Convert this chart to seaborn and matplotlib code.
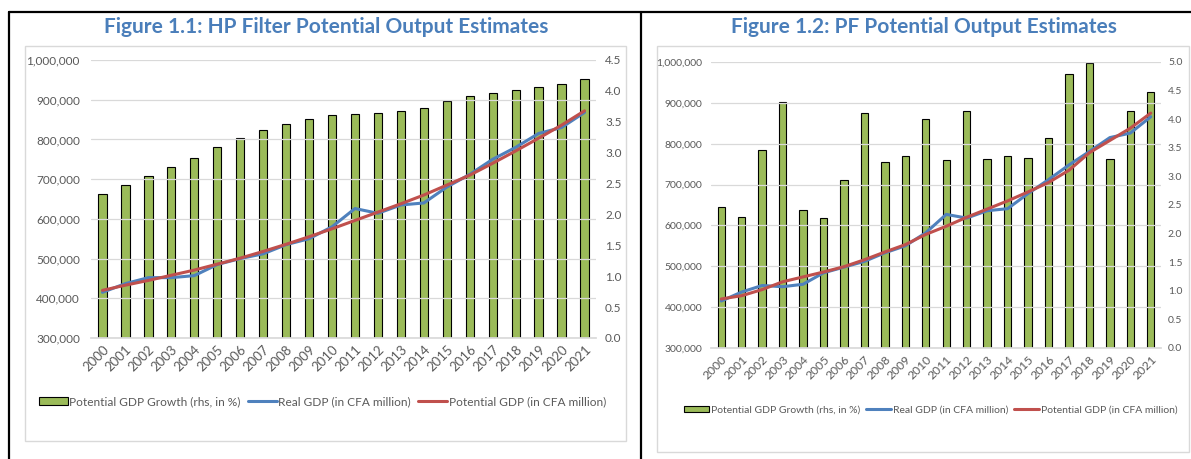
import numpy as np
import pandas as pd
import matplotlib
matplotlib.use("Agg")
import matplotlib.pyplot as plt
import seaborn as sns
from matplotlib.lines import Line2D
from matplotlib.patches import Rectangle, Patch
from matplotlib.ticker import FuncFormatter, MultipleLocator

years = [str(y) for y in range(2000, 2022)]

# Figure 1.1 (HP filter)
hp_growth = [2.33, 2.48, 2.62, 2.76, 2.92, 3.09, 3.23, 3.36, 3.47, 3.55, 3.61,
             3.63, 3.64, 3.67, 3.73, 3.83, 3.91, 3.97, 4.02, 4.06, 4.11, 4.19]
hp_real = [415000, 437000, 452000, 452000, 457000, 485000, 500000, 512000, 535000, 550000, 580000,
           626000, 614000, 635000, 640000, 680000, 712000, 750000, 780000, 815000, 830000, 868000]
hp_pot = [420000, 433000, 445000, 458000, 471000, 486000, 501000, 518000, 536000, 555000, 575000,
          596000, 617000, 638000, 660000, 685000, 710000, 740000, 771000, 803000, 836000, 872000]

# Figure 1.2 (production function)
pf_growth = [2.46, 2.29, 3.47, 4.30, 2.41, 2.27, 2.93, 4.10, 3.26, 3.36, 4.00,
             3.29, 4.14, 3.31, 3.36, 3.32, 3.67, 4.79, 4.99, 3.31, 4.14, 4.48]
pf_real = [415000, 437000, 453000, 450000, 456000, 484000, 498000, 512000, 533000, 550000, 582000,
           627000, 618000, 636000, 641000, 678000, 712000, 748000, 781000, 815000, 826000, 866000]
pf_pot = [420000, 428000, 443000, 462000, 474000, 486000, 499000, 516000, 535000, 553000, 578000,
          598000, 620000, 640000, 660000, 682000, 705000, 735000, 778000, 808000, 838000, 875000]

titles = ["Figure 1.1: HP Filter Potential Output Estimates",
          "Figure 1.2: PF Potential Output Estimates"]
legend_labels = ["Potential GDP Growth (rhs, in %)", "Real GDP (in CFA million)",
                 "Potential GDP (in CFA million)"]

GREEN = "#9BBB59"
BLUE = "#4F81BD"
RED = "#C0504D"
TITLE_C = "#4A7EBA"
TXT = "#595959"
GRID = "#D9D9D9"

sns.set_theme(style="white")
plt.rcParams["font.family"] = ["Lato", "DejaVu Sans"]

W, H = 1191, 459
fig = plt.figure(figsize=(W / 100, H / 100), dpi=100)


def fx(px):
    return px / W


def fy(py):
    return 1 - py / H


# outer black frame lines
for seg in [((9, 1191), (12, 12)), ((9, 9), (12, 459)), ((641, 641), (12, 459))]:
    fig.add_artist(Line2D([fx(seg[0][0]), fx(seg[0][1])], [fy(seg[1][0]), fy(seg[1][1])],
                          color="black", lw=1.6))

# inner light gray boxes
for (x0, y0, x1, y1) in [(25, 46, 626, 441), (657, 46, 1189, 452)]:
    fig.add_artist(Rectangle((fx(x0), fy(y1)), fx(x1) - fx(x0), fy(y0) - fy(y1),
                             fill=False, edgecolor=GRID, lw=1.0))

panels = [
    dict(growth=hp_growth, real=hp_real, pot=hp_pot, title=titles[0],
         box=(91, 60, 596, 338), rmax=4.5, tcx=326, fs=8.5, yfs=9.5, lfs=8.6,
         leg=(39, 402), lpad=8, rpad=6.5),
    dict(growth=pf_growth, real=pf_real, pot=pf_pot, title=titles[1],
         box=(711, 62, 1161, 348), rmax=5.0, tcx=924, fs=7.5, yfs=8.7, lfs=7.5,
         leg=(684, 410), lpad=6, rpad=5),
]

for p in panels:
    x0, y0, x1, y1 = p["box"]
    ax = fig.add_axes([fx(x0), fy(y1), fx(x1) - fx(x0), fy(y0) - fy(y1)])
    ax2 = ax.twinx()
    df = pd.DataFrame({"year": years, "growth": p["growth"], "real": p["real"], "pot": p["pot"]})

    sns.barplot(data=df, x="year", y="growth", ax=ax2, color=GREEN, width=0.36,
                edgecolor="black", linewidth=0.8, saturation=1)
    for patch in ax2.patches:
        patch.set_facecolor(GREEN)
    ax2.set_ylim(0, p["rmax"])
    ax2.yaxis.set_major_locator(MultipleLocator(0.5))
    ax2.yaxis.set_major_formatter(FuncFormatter(lambda v, _: f"{v:.1f}"))
    ax2.set_ylabel("")

    sns.lineplot(data=df, x="year", y="real", ax=ax, color=BLUE, lw=2.2, sort=False)
    sns.lineplot(data=df, x="year", y="pot", ax=ax, color=RED, lw=2.2, sort=False)
    ax.set_ylim(300000, 1000000)
    ax.set_xlim(-0.5, len(years) - 0.5)
    ax.yaxis.set_major_locator(MultipleLocator(100000))
    ax.yaxis.set_major_formatter(FuncFormatter(lambda v, _: f"{int(v):,}"))
    ax.set_xlabel("")
    ax.set_ylabel("")
    ax.grid(axis="y", color=GRID, lw=0.9)
    ax.grid(axis="x", visible=False)
    ax.set_axisbelow(True)

    ax.set_zorder(ax2.get_zorder() + 1)
    ax.patch.set_visible(False)

    for a in (ax, ax2):
        for s in a.spines.values():
            s.set_visible(False)
        a.tick_params(length=0, colors=TXT, labelsize=p["fs"])
    ax.spines["bottom"].set_visible(True)
    ax.spines["bottom"].set_color(GRID)
    ax.tick_params(axis="y", pad=p["lpad"])
    ax2.tick_params(axis="y", pad=p["rpad"])
    ax2.set_xticks([])
    ax.set_xticks(range(len(years)))
    ax.set_xticklabels(years, rotation=45, ha="right", rotation_mode="anchor",
                       fontsize=p["yfs"], color=TXT)
    ax.tick_params(axis="x", pad=4)

    fig.text(fx(p["tcx"]), fy(27), p["title"], ha="center", va="center",
             fontsize=15, fontweight="bold", color=TITLE_C)

    handles = [Patch(facecolor=GREEN, edgecolor="black", lw=0.8),
               Line2D([], [], color=BLUE, lw=2.2),
               Line2D([], [], color=RED, lw=2.2)]
    fig.legend(handles, legend_labels, loc="center left",
               bbox_to_anchor=(fx(p["leg"][0]), fy(p["leg"][1])), ncol=3, frameon=False,
               fontsize=p["lfs"], labelcolor=TXT, handlelength=2.4, handleheight=0.6,
               handletextpad=0.15, columnspacing=0.6, borderaxespad=0, borderpad=0)

fig.savefig("out.png", dpi=100)
